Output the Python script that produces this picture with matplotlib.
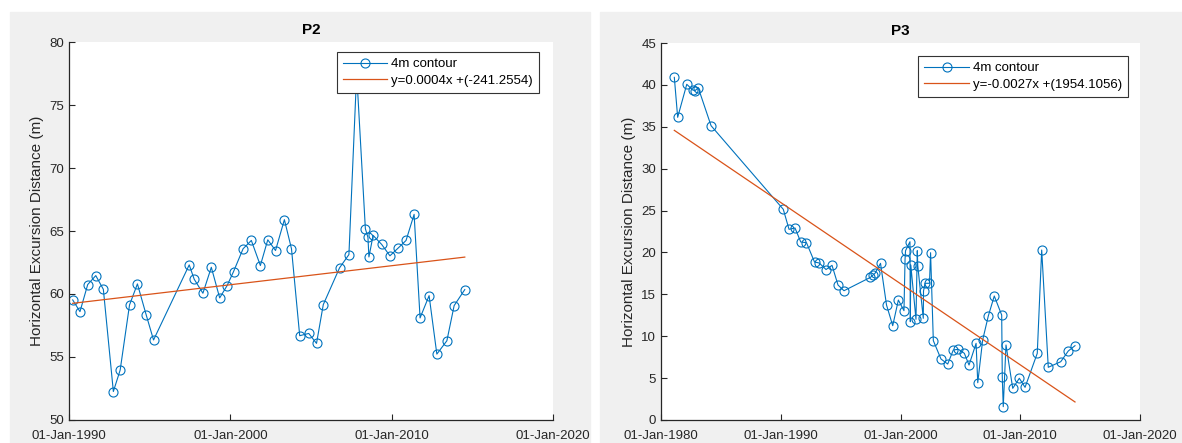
import numpy as np
import matplotlib
matplotlib.use('Agg')
import matplotlib.pyplot as plt
import matplotlib.dates as mdates
from matplotlib.patches import Rectangle
from datetime import datetime, timedelta

plt.rcParams['font.family'] = ['Liberation Sans', 'DejaVu Sans']

# P2 survey dates (decimal years) and 4 m contour excursion (m)
p2_years = [1990.23, 1990.68, 1991.16, 1991.66, 1992.13, 1992.75, 1993.17, 1993.75,
            1994.24, 1994.78, 1995.24, 1997.45, 1997.76, 1998.30, 1998.82, 1999.34,
            1999.80, 2000.20, 2000.79, 2001.30, 2001.86, 2002.32, 2002.80, 2003.35,
            2003.79, 2004.30, 2004.86, 2005.34, 2005.76, 2006.77, 2007.35, 2007.83,
            2008.37, 2008.53, 2008.59, 2008.85, 2009.38, 2009.89, 2010.42, 2010.89,
            2011.39, 2011.76, 2012.32, 2012.80, 2013.42, 2013.87, 2014.53]
p2_dist = [59.53, 58.60, 60.75, 61.46, 60.37, 52.26, 53.96, 59.13,
           60.80, 58.36, 56.35, 62.31, 61.17, 60.06, 62.12, 59.69,
           60.67, 61.78, 63.59, 64.25, 62.26, 64.30, 63.45, 65.90,
           63.59, 56.69, 56.87, 56.08, 59.16, 62.08, 63.13, 77.50,
           65.18, 64.49, 62.94, 64.65, 63.93, 63.03, 63.67, 64.25,
           66.32, 58.10, 59.87, 55.23, 56.29, 59.08, 60.35]
# linear fit against MATLAB datenum
p2_fit = [0.00041341, -241.2554]

# P3 survey dates and excursion
p3_years = [1981.11, 1981.39, 1982.15, 1982.65, 1982.84, 1983.11, 1984.18, 1990.21,
            1990.69, 1991.19, 1991.67, 1992.15, 1992.82, 1993.21, 1993.78, 1994.28,
            1994.78, 1995.28, 1997.49, 1997.73, 1997.87, 1998.33, 1998.83, 1999.35,
            1999.82, 2000.29, 2000.38, 2000.42, 2000.79, 2000.82, 2000.86, 2001.29,
            2001.40, 2001.44, 2001.90, 2001.92, 2002.05, 2002.42, 2002.51, 2002.74,
            2003.38, 2003.94, 2004.41, 2004.83, 2005.33, 2005.72, 2006.31, 2006.45,
            2006.86, 2007.33, 2007.83, 2008.45, 2008.50, 2008.58, 2008.81, 2009.37,
            2009.92, 2010.40, 2011.42, 2011.79, 2012.34, 2013.38, 2014.01, 2014.57]
p3_dist = [40.90, 36.13, 40.07, 39.39, 39.31, 39.66, 35.13, 25.15,
           22.76, 22.92, 21.25, 21.16, 18.86, 18.74, 17.96, 18.46,
           16.11, 15.43, 17.03, 17.34, 17.51, 18.70, 13.73, 11.26,
           14.32, 13.05, 19.18, 20.21, 21.28, 11.73, 18.50, 12.02,
           20.21, 18.42, 12.14, 15.40, 16.32, 16.32, 19.97, 9.47,
           7.28, 6.68, 8.36, 8.44, 7.96, 6.56, 9.15, 4.45,
           9.55, 12.41, 14.80, 12.53, 5.10, 1.59, 8.95, 3.78,
           4.98, 3.90, 7.96, 20.29, 6.29, 6.96, 8.24, 8.87]
p3_fit = [-0.0026528, 1954.1056]


def to_dates(years):
    return [datetime(int(y), 1, 1) + timedelta(days=(y - int(y)) * 365.25) for y in years]


def datenum(d):
    # matplotlib day number -> MATLAB datenum
    return mdates.date2num(d) + 719529


blue = '#0072BD'
red = '#D95319'
axcol = '#262626'

fig = plt.figure(figsize=(11.82, 4.43), dpi=100)
fig.patch.set_facecolor('white')
# grey figure panels behind each subplot
fig.patches.append(Rectangle((10 / 1182, 0), 580 / 1182, 431 / 443,
                             transform=fig.transFigure, color='#F0F0F0', zorder=-10))
fig.patches.append(Rectangle((600 / 1182, 0), 582 / 1182, 431 / 443,
                             transform=fig.transFigure, color='#F0F0F0', zorder=-10))

panels = [
    ('P2', p2_years, p2_dist, p2_fit, [0.05838, 0.05192, 0.40948, 0.85327],
     (1990, 2020), (50, 80), (1 - 14 / 484, 1 - 10 / 378)),
    ('P3', p3_years, p3_dist, p3_fit, [0.55922, 0.05192, 0.40525, 0.8510],
     (1980, 2020), (0, 45), (1 - 12 / 479, 1 - 13 / 377)),
]

for title, years, dist, fit, pos, xr, yr, anchor in panels:
    ax = fig.add_axes(pos)
    dates = to_dates(years)
    ax.plot(dates, dist, '-o', color=blue, lw=0.8, markersize=6.5,
            markerfacecolor='none', markeredgewidth=0.8, label='4m contour')

    # trend line from the fit coefficients
    ends = [dates[0], dates[-1]]
    trend = [fit[0] * datenum(d) + fit[1] for d in ends]
    ax.plot(ends, trend, color=red, lw=0.9,
            label=f'y={fit[0]:.4f}x +({fit[1]:.4f})')

    ax.set_xlim(datetime(xr[0], 1, 1), datetime(xr[1], 1, 1))
    ax.set_ylim(*yr)
    ax.xaxis.set_major_locator(mdates.YearLocator(10))
    ax.xaxis.set_major_formatter(mdates.DateFormatter('%d-%b-%Y'))
    ax.set_yticks(np.arange(yr[0], yr[1] + 1, 5))

    for s in ['top', 'right']:
        ax.spines[s].set_visible(False)
    for s in ['left', 'bottom']:
        ax.spines[s].set_color(axcol)
        ax.spines[s].set_linewidth(0.9)
    ax.tick_params(direction='in', length=4, width=0.8, colors=axcol, labelsize=9.5)
    ax.tick_params(axis='x', pad=7)

    ax.set_title(title, fontsize=11, fontweight='bold', color='black', pad=6)
    ax.set_ylabel('Horizontal Excursion Distance (m)', fontsize=11, color=axcol)

    leg = ax.legend(loc='upper right', bbox_to_anchor=anchor, borderaxespad=0,
                    fontsize=9.5, fancybox=False, framealpha=1, edgecolor='#333333',
                    handlelength=3.4, handletextpad=0.3, borderpad=0.45,
                    labelspacing=0.35)
    leg.get_frame().set_linewidth(0.8)

plt.savefig('out.png', dpi=100, facecolor=fig.get_facecolor())
